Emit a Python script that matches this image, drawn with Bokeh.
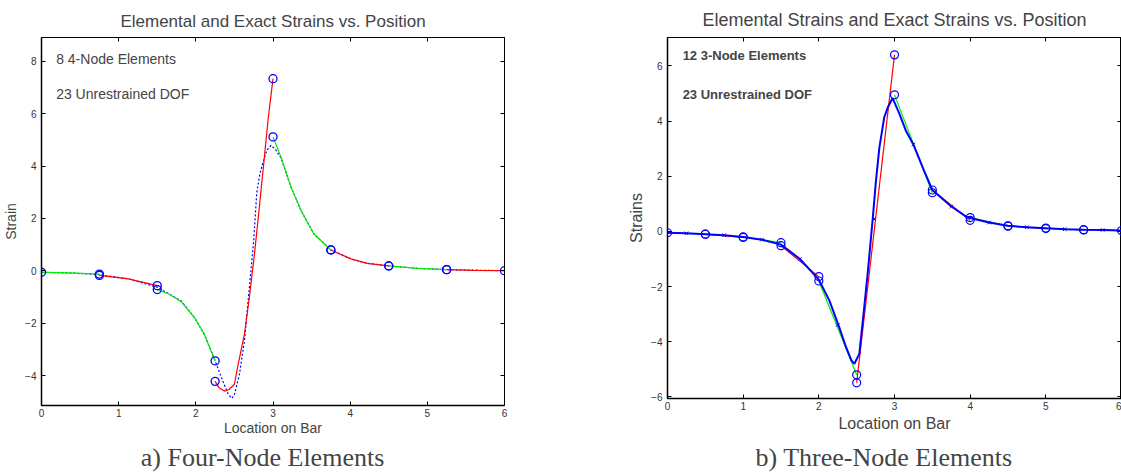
from bokeh.plotting import figure
from bokeh.models import Range1d, LinearAxis, Label, FixedTicker
from bokeh.layouts import row, column
from bokeh.embed import file_html
from bokeh.resources import INLINE

# ---------------- data: left panel (8 four-node elements) ----------------
left_x_ticks = [0, 1, 2, 3, 4, 5, 6]
left_y_ticks = [-4, -2, 0, 2, 4, 6, 8]

left_exact_x = [0, 0.375, 0.75, 1.125, 1.5, 1.81, 1.98, 2.11, 2.25, 2.35, 2.42, 2.466, 2.5,
                2.565, 2.63, 2.67, 2.71, 2.75, 2.79, 2.83, 2.866, 2.92, 2.974, 3.04, 3.104,
                3.233, 3.362, 3.53, 3.75, 4.01, 4.22, 4.5, 4.875, 5.25, 5.6, 6.0]
left_exact_y = [-0.05, -0.08, -0.14, -0.3, -0.62, -1.14, -1.77, -2.41, -3.43, -4.2, -4.7, -4.86, -4.72,
                -3.94, -2.67, -1.39, -0.11, 1.16, 3.0, 3.7, 4.09, 4.6, 4.79, 4.6, 4.3,
                3.2, 2.31, 1.41, 0.8, 0.46, 0.29, 0.19, 0.1, 0.05, 0.03, 0.01]

left_elem_x = [
    [0, 0.375, 0.75],
    [0.75, 1.125, 1.5],
    [1.5, 1.65, 1.81, 1.98, 2.11, 2.25],
    [2.25, 2.3, 2.37, 2.43, 2.5, 2.54, 2.63, 2.694, 2.76, 2.823, 2.888, 2.94, 3.0],
    [3.0, 3.104, 3.233, 3.362, 3.53, 3.75],
    [3.75, 4.01, 4.22, 4.5],
    [4.5, 4.875, 5.25],
    [5.25, 5.6, 6.0],
]
left_elem_y = [
    [-0.05, -0.07, -0.12],
    [-0.17, -0.3, -0.56],
    [-0.71, -0.88, -1.17, -1.77, -2.41, -3.43],
    [-4.21, -4.45, -4.58, -4.52, -4.32, -3.69, -2.41, -1.0, 0.65, 2.43, 4.34, 5.87, 7.33],
    [5.11, 4.34, 3.2, 2.31, 1.41, 0.8],
    [0.8, 0.46, 0.29, 0.19],
    [0.19, 0.1, 0.05],
    [0.05, 0.02, 0.01],
]

# ---------------- data: right panel (12 three-node elements) ----------------
right_x_ticks = [0, 1, 2, 3, 4, 5, 6]
right_y_ticks = [-6, -4, -2, 0, 2, 4, 6]

right_exact_x = [0, 0.25, 0.5, 0.75, 1.0, 1.25, 1.5, 1.75, 2.0, 2.14, 2.27, 2.36, 2.43, 2.47,
                 2.535, 2.6, 2.645, 2.71, 2.755, 2.8, 2.864, 2.91, 2.974, 3.06, 3.15, 3.25,
                 3.39, 3.5, 3.74, 3.96, 4.25, 4.5, 4.75, 5.0, 5.25, 5.5, 5.75, 6.0]
right_exact_y = [-0.05, -0.07, -0.1, -0.14, -0.2, -0.3, -0.48, -1.0, -1.75, -2.51, -3.48, -4.2, -4.68, -4.8,
                 -4.44, -2.75, -1.54, 0.39, 1.84, 3.04, 4.13, 4.49, 4.83, 4.3, 3.65, 3.15,
                 2.2, 1.5, 0.93, 0.51, 0.32, 0.2, 0.15, 0.11, 0.08, 0.06, 0.05, 0.03]

right_mid_x = [0.25, 0.75, 1.25, 1.75, 2.25, 2.73, 3.25, 3.75, 4.25, 4.75, 5.25, 5.75]
right_mid_y = [-0.07, -0.14, -0.3, -1.0, -3.4, 0.45, 3.15, 0.9, 0.32, 0.15, 0.08, 0.05]

right_elem_x0 = [0, 0.5, 1.0, 1.5, 2.0, 2.5, 3.0, 3.5, 4.0, 4.5, 5.0, 5.5]
right_elem_x1 = [0.5, 1.0, 1.5, 2.0, 2.5, 3.0, 3.5, 4.0, 4.5, 5.0, 5.5, 6.0]
right_elem_y0 = [-0.05, -0.1, -0.2, -0.52, -1.8, -5.49, 4.95, 1.5, 0.5, 0.2, 0.12, 0.06]
right_elem_y1 = [-0.1, -0.22, -0.41, -1.64, -5.2, 6.4, 1.4, 0.4, 0.19, 0.1, 0.05, 0.03]

captions = ["a) Four-Node Elements", "b) Three-Node Elements"]

RED = "#ff0000"
GREEN = "#00ee00"
BLUE = "#0000ff"
SANS = "Liberation Sans"
SERIF = "Liberation Serif"


def style_axes(p, xt, yt, tick_font, xlabel, ylabel, label_font, xlabel_standoff):
    xa = p.xaxis[0]
    ya = p.yaxis[0]
    xa.axis_label = xlabel
    ya.axis_label = ylabel
    for ax in (xa, ya):
        ax.major_tick_in = 4
        ax.major_tick_out = 0
        ax.minor_tick_line_color = None
        ax.axis_line_width = 1.5
        ax.axis_line_color = "black"
        ax.major_tick_line_color = "black"
        ax.major_label_text_font = SANS
        ax.major_label_text_font_size = tick_font
        ax.major_label_text_color = "#333333"
        ax.axis_label_text_font = SANS
        ax.axis_label_text_font_size = label_font
        ax.axis_label_text_font_style = "normal"
        ax.axis_label_standoff = 3
    xa.axis_label_standoff = xlabel_standoff
    xa.ticker = FixedTicker(ticks=xt)
    ya.ticker = FixedTicker(ticks=yt)
    xa.major_label_standoff = 3
    ya.major_label_standoff = 5
    p.xgrid.visible = False
    p.ygrid.visible = False
    p.outline_line_color = "black"
    p.outline_line_width = 1
    # MATLAB-style box ticks on top and right (no labels)
    for loc, ticks in (("above", xt), ("right", yt)):
        ax = LinearAxis(ticker=FixedTicker(ticks=ticks), major_label_text_font_size="1px",
                        major_label_text_color=None,
                        major_label_standoff=0, major_tick_in=4, major_tick_out=0,
                        minor_tick_line_color=None, axis_line_color="black")
        p.add_layout(ax, loc)


# ---------------- left figure ----------------
p1 = figure(width=620, height=442, x_range=Range1d(0, 6), y_range=Range1d(-5.13, 8.9),
            output_backend="svg", toolbar_location=None,
            min_border_left=40, min_border_right=116, min_border_top=37, min_border_bottom=37)
p1.title.text = "Elemental and Exact Strains vs. Position"
p1.title.align = "center"
p1.title.text_font = SANS
p1.title.text_font_size = "17px"
p1.title.text_font_style = "normal"
p1.title.standoff = 13
style_axes(p1, left_x_ticks, left_y_ticks, "10px", "Location on Bar", "Strain", "14px", 0)

p1.line(left_exact_x, left_exact_y, color=BLUE, line_width=1.2, line_dash="2 2")
for i, (ex, ey) in enumerate(zip(left_elem_x, left_elem_y)):
    p1.line(ex, ey, color=GREEN if i % 2 == 0 else RED, line_width=1.2)
cx = [e[0] for e in left_elem_x] + [e[-1] for e in left_elem_x]
cy = [e[0] for e in left_elem_y] + [e[-1] for e in left_elem_y]
p1.scatter(cx, cy, marker="circle", size=8, fill_color=None, line_color=BLUE, line_width=1.3)

p1.add_layout(Label(x=0.19, y=8.07, text="8 4-Node Elements", text_font=SANS,
                    text_font_size="14px", text_baseline="middle"))
p1.add_layout(Label(x=0.19, y=6.73, text="23 Unrestrained DOF", text_font=SANS,
                    text_font_size="14px", text_baseline="middle"))

# ---------------- right figure ----------------
p2 = figure(width=501, height=435, x_range=Range1d(0, 6), y_range=Range1d(-6.06, 7.03),
            output_backend="svg", toolbar_location=None,
            min_border_left=47, min_border_right=0, min_border_top=37, min_border_bottom=37)
p2.title.text = "Elemental Strains and Exact Strains vs. Position"
p2.title.align = "center"
p2.title.text_font = SANS
p2.title.text_font_size = "18px"
p2.title.text_font_style = "normal"
p2.title.standoff = 15
style_axes(p2, right_x_ticks, right_y_ticks, "10px", "Location on Bar", "Strains", "16px", 2)
p2.xaxis[0].major_label_standoff = 2

for i in range(len(right_elem_x0)):
    p2.line([right_elem_x0[i], right_elem_x1[i]], [right_elem_y0[i], right_elem_y1[i]],
            color=GREEN if i % 2 == 0 else RED, line_width=1.2)
p2.line(right_exact_x, right_exact_y, color=BLUE, line_width=2)
p2.scatter(right_mid_x, right_mid_y, marker="x", size=5, line_color=BLUE, line_width=1)
p2.scatter(right_elem_x0 + right_elem_x1, right_elem_y0 + right_elem_y1, marker="circle", size=8,
           fill_color=None, line_color=BLUE, line_width=1.2)

p2.add_layout(Label(x=0.2, y=6.37, text="12 3-Node Elements", text_font=SANS,
                    text_font_size="13px", text_font_style="bold", text_baseline="middle"))
p2.add_layout(Label(x=0.2, y=4.98, text="23 Unrestrained DOF", text_font=SANS,
                    text_font_size="13px", text_font_style="bold", text_baseline="middle"))

# ---------------- caption strip ----------------
p3 = figure(width=1121, height=30, x_range=Range1d(0, 1121), y_range=Range1d(0, 30),
            output_backend="svg", toolbar_location=None, min_border=0,
            outline_line_color=None)
p3.axis.visible = False
p3.grid.visible = False
for cx_pos, txt in zip([262, 883.5], captions):
    p3.add_layout(Label(x=cx_pos, y=15, text=txt, text_font=SERIF, text_font_size="26px",
                        text_align="center", text_baseline="middle"))

layout = column(row(p1, p2), p3)
open("out.html", "w").write(file_html(layout, INLINE))
